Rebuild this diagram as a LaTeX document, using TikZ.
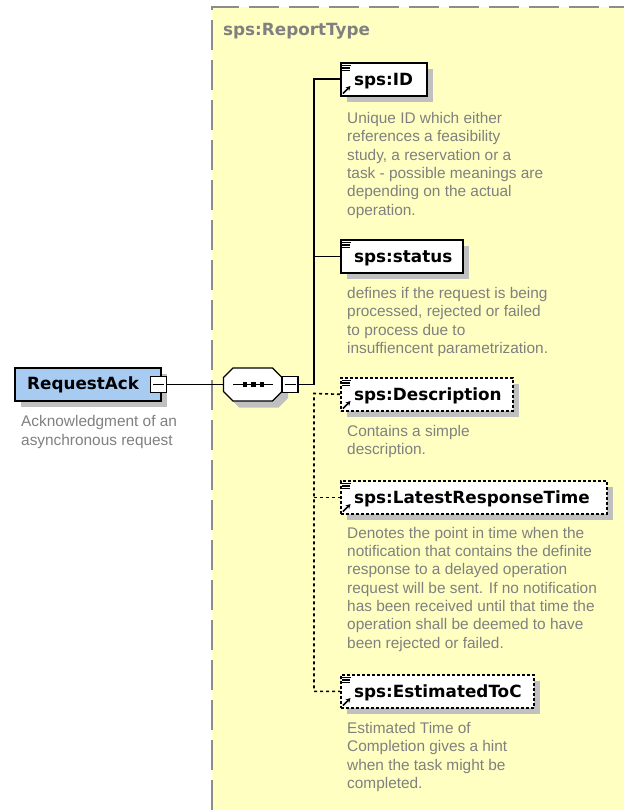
\documentclass[tikz,border=0pt]{standalone}
\usepackage{fontspec}
\usetikzlibrary{shadows,arrows.meta}
\newfontfamily\docfont{Liberation Sans}
\newfontfamily\headfont{DejaVu Sans}
\definecolor{panelbg}{HTML}{FFFFC2}
\definecolor{paneledge}{HTML}{8C8C8C}
\definecolor{reqblue}{HTML}{A8CBF2}
\definecolor{docgray}{HTML}{808080}
\definecolor{shadowgray}{HTML}{C0C0C0}

% small marks in the top-left / bottom-left corner of an element box
\newcommand\docmark[1]{%
  \draw[line width=1.1pt] ([xshift=2pt,yshift=-3.5pt]#1.north west) -- ++(9,0);
  \draw[line width=1.1pt] ([xshift=2pt,yshift=-6pt]#1.north west) -- ++(8,0);
  \draw[line width=1.1pt] ([xshift=2pt,yshift=-8.5pt]#1.north west) -- ++(8,0);}
\newcommand\refmark[1]{%
  \draw[line width=1.6pt,-{Stealth[length=4.5pt,width=5pt]}]
    ([xshift=3pt,yshift=3pt]#1.south west) -- ([xshift=10.5pt,yshift=10.5pt]#1.south west);}

\begin{document}
\begin{tikzpicture}[x=1pt,y=-1pt,
  shade/.style={drop shadow={shadow xshift=6pt,shadow yshift=-6.5pt,fill=shadowgray,opacity=1}},
  compbox/.style={draw=black,line width=1.8pt,fill=reqblue,minimum width=146pt,
    minimum height=33pt,inner sep=0pt,anchor=north west,shade},
  elembox/.style={draw=black,line width=1.6pt,fill=white,minimum height=33pt,
    inner sep=0pt,anchor=north west,shade},
  optbox/.style={elembox,dash pattern=on 3pt off 2pt},
  minusbox/.style={draw=black,line width=1.3pt,fill=white,minimum size=16pt,inner sep=0pt},
  headtext/.style={font=\headfont\bfseries\fontsize{16.8}{20}\selectfont,inner sep=0pt,anchor=base west},
  doctext/.style={font=\docfont\fontsize{15.4}{18.3}\selectfont,text=docgray,align=left,
    inner sep=0pt,anchor=north west},
  link/.style={line width=1.6pt},
  optlink/.style={line width=1.6pt,dash pattern=on 3pt off 3pt}]

\useasboundingbox (0,0) rectangle (624,810);
\fill[white] (0,0) rectangle (624,810);

% complex type panel
\fill[panelbg] (212,7) rectangle (624,810);
\draw[paneledge,line width=1.5pt,dash pattern=on 30pt off 10pt] (212,810) -- (212,7) -- (624,7);
\node[headtext,text=docgray] (typename) at (223,36) {sps:ReportType};

% anchors of the connector tree
\coordinate (trunk) at (314,384.5);
\coordinate (opt) at (314,393.5);
\node[minimum width=58.5pt,minimum height=33pt,inner sep=0pt] (seq) at (252.75,384.5) {};

% child elements
\node[elembox,minimum width=86pt] (id) at (340,62) {};
\node[elembox,minimum width=122pt] (status) at (340,239) {};
\node[optbox,minimum width=172pt] (desc) at (340,377) {};
\node[optbox,minimum width=266pt] (lrt) at (340,480) {};
\node[optbox,minimum width=193pt] (etoc) at (340,674) {};

% root element
\node[compbox] (req) at (14,367) {};
\node[minusbox] (reqminus) at (158.7,384.5) {};
\node[minusbox] (seqminus) at (290,384.5) {};

% connectors
\draw[link] (reqminus.east) -- (seq.west);
\draw[link] (id.west) -| (trunk) -- (seqminus.east);
\draw[link] (trunk |- status.west) -- (status.west);
\draw[optlink] (desc.west) -- (opt) |- (etoc.west);
\draw[optlink] (opt |- lrt.west) -- (lrt.west);

% redraw boxes on top of the connectors
\node[elembox,minimum width=86pt] at (340,62) {};
\node[elembox,minimum width=122pt] at (340,239) {};
\node[optbox,minimum width=172pt] at (340,377) {};
\node[optbox,minimum width=266pt] at (340,480) {};
\node[optbox,minimum width=193pt] at (340,674) {};
\node[compbox] at (14,367) {};

% sequence compositor
\draw[line width=1.4pt,fill=white,shade]
  (233,368) -- (272.5,368) -- (282,377.5) -- (282,391.5) -- (272.5,401)
  -- (233,401) -- (223.5,391.5) -- (223.5,377.5) -- cycle;
\draw[line width=1.4pt] (233,384.5) -- (273,384.5);
\foreach \dx in {245,253.3,261.7}
  \fill (\dx-2.2,382.3) rectangle (\dx+2.2,386.7);

% collapse buttons
\node[minusbox] at (158.7,384.5) {};
\draw[line width=1.3pt] (153.2,384.5) -- (164.2,384.5);
\node[minusbox] at (290,384.5) {};
\draw[line width=1.3pt] (284.5,384.5) -- (295.5,384.5);

% corner marks
\docmark{id} \refmark{id}
\docmark{status}
\docmark{desc} \refmark{desc}
\docmark{lrt} \refmark{lrt}
\docmark{etoc} \refmark{etoc}

% names
\node[headtext] (reqname) at (27,389.3) {RequestAck};
\node[headtext] (idname) at (354,85.7) {sps:ID};
\node[headtext] (statusname) at (354,262.5) {sps:status};
\node[headtext] (descname) at (354,400.5) {sps:Description};
\node[headtext] (lrtname) at (354,503.5) {sps:LatestResponseTime};
\node[headtext] (etocname) at (354,697.5) {sps:EstimatedToC};

% annotations
\node[doctext] (reqdoc) at (21,413.9) {\strut Acknowledgment of an\\asynchronous request};
\node[doctext] (iddoc) at (347,110.5) {\strut Unique ID which either\\references a feasibility\\study, a reservation or a\\task - possible meanings are\\depending on the actual\\operation.};
\node[doctext] (statusdoc) at (347,285.5) {\strut defines if the request is being\\processed, rejected or failed\\to process due to\\insuffiencent parametrization.};
\node[doctext] (descdoc) at (347,423.2) {\strut Contains a simple\\description.};
\node[doctext] (lrtdoc) at (347,525.2) {\strut Denotes the point in time when the\\notification that contains the definite\\response to a delayed operation\\request will be sent. If no notification\\has been received until that time the\\operation shall be deemed to have\\been rejected or failed.};
\node[doctext] (etocdoc) at (347,720.5) {\strut Estimated Time of\\Completion gives a hint\\when the task might be\\completed.};

\end{tikzpicture}
\end{document}
